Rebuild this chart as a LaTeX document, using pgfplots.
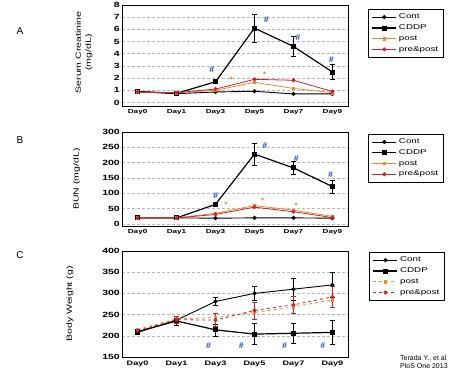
\documentclass[border=0pt]{standalone}
\usepackage{fontspec}
\setmainfont{Liberation Sans}
\newfontfamily\widefont[FakeStretch=1.4]{Liberation Sans}
\usepackage{pgfplots}
\pgfplotsset{compat=1.18}
\definecolor{porange}{RGB}{232,140,50}
\definecolor{pred}{RGB}{205,35,45}
\definecolor{hblue}{RGB}{35,70,175}
\tikzset{
  hash/.style={text=hblue, font=\bfseries\itshape\fontsize{8.5}{8.5}\selectfont, inner sep=0pt},
  ast/.style={text=porange, font=\bfseries\fontsize{8}{8}\selectfont, inner sep=0pt},
}
\pgfplotsset{
  panel/.style={
    scale only axis, width=226pt,
    xmin=-0.4, xmax=5.4,
    xtick={0,1,2,3,4,5},
    xticklabels={Day0,Day1,Day3,Day5,Day7,Day9},
    major tick length=0pt,
    xticklabel style={font=\widefont\bfseries\fontsize{5.8}{7}\selectfont},
    yticklabel style={font=\widefont\bfseries\fontsize{7.5}{7.5}\selectfont, inner xsep=2pt},
    /pgf/number format/assume math mode=true,
    axis line style={line width=0.9pt},
    ymajorgrids, grid style={densely dashed, gray!55, line width=0.5pt},
    ylabel style={font=\widefont\fontsize{7.5}{10}\selectfont, align=center, anchor=center},
    legend style={anchor=north west, font=\widefont\fontsize{7}{8}\selectfont,
      draw=black, line width=0.8pt, inner xsep=3pt, inner ysep=2.5pt, row sep=0.5pt,
      cells={anchor=west}},
    legend image code/.code={\draw[mark repeat=2,mark phase=2,##1] plot coordinates {(0pt,0pt) (12pt,0pt) (24pt,0pt)};},
    error bars/y dir=both, error bars/y explicit,
    error bars/error mark options={rotate=90, mark size=2.2pt, line width=0.6pt},
    error bars/error bar style={line width=0.6pt, solid},
  },
  cont/.style={black, line width=0.9pt, mark=*, mark size=1.6pt, mark options={solid}},
  cddp/.style={black, line width=1.2pt, mark=square*, mark size=1.9pt, mark options={solid}},
  post/.style={porange, line width=0.8pt, mark=square*, mark size=1.3pt, mark options={solid}},
  prepost/.style={pred, line width=0.8pt, mark=*, mark size=1.6pt, mark options={solid}},
}
\begin{document}
\begin{tikzpicture}
\useasboundingbox (0,0) rectangle (460pt,-382pt);
% ---------------- A
\begin{axis}[panel, at={(122pt,-106pt)}, anchor=south west, height=101pt,
  ymin=-0.29, ymax=8, ytick={0,1,...,8},
  ylabel={Serum Creatinine\\(mg/dL)},
  ylabel style={at={(axis description cs:-0.168,0.53)}},
  legend style={at={(1.09,0.96)}}]
\addplot[cont] coordinates {(0,0.9) (1,0.72) (2,0.86) (3,0.92) (4,0.7) (5,0.7)};
\addplot[cddp] coordinates {(0,0.9) +- (0,0) (1,0.75) +- (0,0.05) (2,1.7) +- (0,0.15) (3,6.1) +- (0,1.15) (4,4.6) +- (0,0.85) (5,2.5) +- (0,0.6)};
\addplot[post] coordinates {(0,0.85) (1,0.8) (2,1.0) (3,1.65) (4,1.15) (5,0.8)};
\addplot[prepost] coordinates {(0,0.85) (1,0.8) (2,1.1) (3,1.9) (4,1.82) (5,0.9)};
\legend{Cont,CDDP,post,pre\&post}
\node[hash] at (axis cs:1.9,2.7) {\#};
\node[hash] at (axis cs:3.3,6.8) {\#};
\node[hash] at (axis cs:4.11,5.3) {\#};
\node[hash] at (axis cs:4.97,3.5) {\#};
\node[ast] at (axis cs:2.4,1.85) {*};
\node[ast] at (axis cs:3.26,2.25) {*};
\end{axis}
% ---------------- B
\begin{axis}[panel, at={(122pt,-226pt)}, anchor=south west, height=94pt,
  ymin=-6.5, ymax=300, ytick={0,50,...,300},
  ylabel={BUN (mg/dL)},
  ylabel style={at={(axis description cs:-0.2,0.5)}},
  legend style={at={(1.09,0.98)}}]
\addplot[cont] coordinates {(0,20) (1,20) (2,19) (3,20) (4,20) (5,19)};
\addplot[cddp] coordinates {(0,20) +- (0,0) (1,20) +- (0,2) (2,64) +- (0,5) (3,228) +- (0,35) (4,183) +- (0,22) (5,122) +- (0,22)};
\addplot[post] coordinates {(0,20) (1,20) (2,35) (3,60) (4,45) (5,25)};
\addplot[prepost] coordinates {(0,20) (1,20) (2,31) (3,55) (4,40) (5,21)};
\legend{Cont,CDDP,post,pre\&post}
\node[hash] at (axis cs:2.0,92) {\#};
\node[hash] at (axis cs:3.26,255) {\#};
\node[hash] at (axis cs:4.07,214) {\#};
\node[hash] at (axis cs:4.95,162) {\#};
\node[ast] at (axis cs:2.27,62) {*};
\node[ast] at (axis cs:3.21,75) {*};
\node[ast] at (axis cs:4.07,60) {*};
\end{axis}
% ---------------- C
\begin{axis}[panel, at={(122pt,-357pt)}, anchor=south west, height=106pt,
  ymin=150, ymax=400, ytick={150,200,...,400},
  ylabel={Body Weight (g)},
  ylabel style={at={(axis description cs:-0.23,0.5)}},
  xticklabel style={font=\widefont\bfseries\fontsize{6.5}{7}\selectfont},
  legend style={at={(1.095,0.99)}}]
\addplot[cont] coordinates {(0,208) +- (0,4) (1,237) +- (0,8) (2,281) +- (0,10) (3,300) +- (0,17) (4,310) +- (0,26) (5,320) +- (0,30)};
\addplot[cddp] coordinates {(0,210) +- (0,4) (1,235) +- (0,10) (2,214) +- (0,14) (3,204) +- (0,25) (4,206) +- (0,24) (5,208) +- (0,28)};
\addplot[post, dashed] coordinates {(0,215) (1,240) (2,243) (3,255) (4,268) (5,285)};
\addplot[prepost, dashed] coordinates {(0,212) +- (0,4) (1,238) +- (0,8) (2,237) +- (0,15) (3,260) +- (0,20) (4,273) +- (0,20) (5,292) +- (0,25)};
\legend{Cont,CDDP,post,pre\&post}
\node[hash] at (axis cs:1.82,176) {\#};
\node[hash] at (axis cs:2.66,178) {\#};
\node[hash] at (axis cs:3.77,176) {\#};
\node[hash] at (axis cs:4.75,178) {\#};
\end{axis}
% ---------------- panel letters and citation
\node[font=\fontsize{10}{10}\selectfont] at (20pt,-31pt) {A};
\node[font=\fontsize{10}{10}\selectfont] at (20pt,-140pt) {B};
\node[font=\fontsize{10}{10}\selectfont] at (20pt,-255pt) {C};
\node[anchor=north west, align=left, font=\fontsize{7}{8.5}\selectfont, inner sep=0pt] at (400pt,-355pt) {Terada Y., et al\\PloS One 2013};
\end{tikzpicture}
\end{document}
